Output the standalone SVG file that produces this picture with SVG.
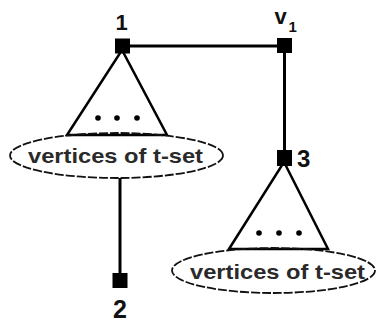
<svg xmlns="http://www.w3.org/2000/svg" width="380" height="324" viewBox="0 0 380 324">
<style>
.edge{stroke:#000;stroke-width:3;fill:none}
.tri{stroke:#000;stroke-width:2.5;fill:none;stroke-linejoin:miter}
.ell{stroke:#111;stroke-width:1.8;fill:none;stroke-dasharray:9 2}
.sq{fill:#000}
.dot{fill:#000}
.lbl{font-family:"Liberation Sans",Arial,sans-serif;font-weight:bold;fill:#111}
.set{font-family:"Liberation Sans",Arial,sans-serif;font-weight:bold;font-size:21px;fill:#2a2a2a}
</style>
<rect width="380" height="324" fill="#fff"/>
<g id="connectors">
<line class="edge" x1="122" y1="46" x2="284" y2="46"/>
<line class="edge" x1="284.5" y1="46" x2="284.5" y2="158"/>
<line class="edge" x1="120" y1="178" x2="120" y2="281"/>
</g>
<g id="tree1">
<path class="tri" d="M67,135 L122,50 L167,135 Z"/>
<circle class="dot" cx="98" cy="118" r="2.8"/>
<circle class="dot" cx="117" cy="118" r="2.8"/>
<circle class="dot" cx="137" cy="118" r="2.8"/>
<ellipse class="ell" cx="116.5" cy="155.5" rx="106.5" ry="22.5"/>
<text class="set" x="28" y="162.5" textLength="175" lengthAdjust="spacingAndGlyphs">vertices of t-set</text>
</g>
<g id="tree3">
<path class="tri" d="M229,249 L284,162 L328,249 Z"/>
<circle class="dot" cx="259" cy="233" r="2.8"/>
<circle class="dot" cx="279" cy="233" r="2.8"/>
<circle class="dot" cx="299" cy="233" r="2.8"/>
<ellipse class="ell" cx="273.5" cy="270.5" rx="101.5" ry="22.5"/>
<text class="set" x="190" y="278.5" textLength="175" lengthAdjust="spacingAndGlyphs">vertices of t-set</text>
</g>
<g id="node1">
<rect class="sq" x="115" y="38.5" width="15" height="15"/>
<text class="lbl" x="121.5" y="30" font-size="22" text-anchor="middle">1</text>
</g>
<g id="nodev1">
<rect class="sq" x="277" y="38" width="15" height="15"/>
<text class="lbl" x="274.5" y="24" font-size="22">v</text>
<text class="lbl" x="288.5" y="32" font-size="15">1</text>
</g>
<g id="node3">
<rect class="sq" x="277" y="150" width="15" height="16"/>
<text class="lbl" x="297" y="167" font-size="24">3</text>
</g>
<g id="node2">
<rect class="sq" x="112.5" y="273" width="15" height="15"/>
<text class="lbl" x="120" y="318" font-size="25" text-anchor="middle">2</text>
</g>
</svg>
